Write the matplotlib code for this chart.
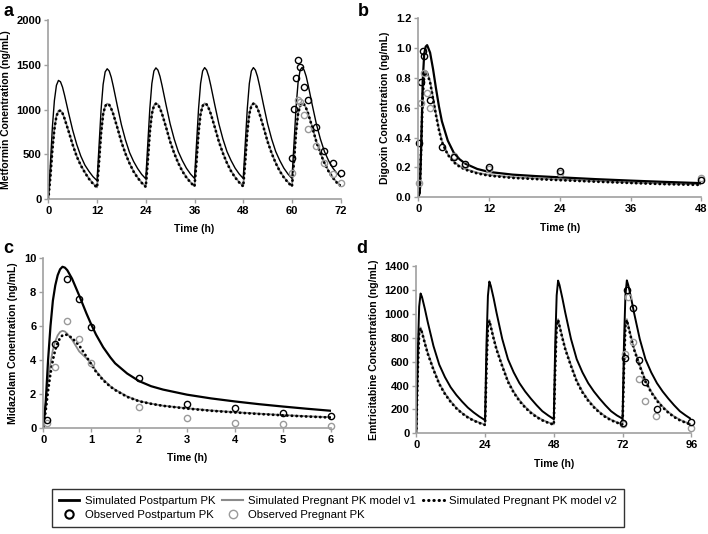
import matplotlib

matplotlib.use("Agg")
import matplotlib.pyplot as plt
from matplotlib.lines import Line2D

plt.rcParams["font.family"] = ["Liberation Sans", "DejaVu Sans"]

# ---- panel a: metformin ----
time_a = [0, 0.5, 1, 1.5, 2, 2.5, 3, 3.5, 4, 5, 6, 7, 8, 9, 10, 11,
          12, 12.5, 13, 13.5, 14, 14.5, 15, 15.5, 16, 17, 18, 19, 20, 21, 22, 23,
          24, 24.5, 25, 25.5, 26, 26.5, 27, 27.5, 28, 29, 30, 31, 32, 33, 34, 35,
          36, 36.5, 37, 37.5, 38, 38.5, 39, 39.5, 40, 41, 42, 43, 44, 45, 46, 47,
          48, 48.5, 49, 49.5, 50, 50.5, 51, 51.5, 52, 53, 54, 55, 56, 57, 58, 59,
          60, 60.5, 61, 61.5, 62, 62.5, 63, 63.5, 64, 65, 66, 67, 68, 69, 70, 71, 72]
post_a = [0, 380, 800, 1100, 1270, 1325, 1310, 1250, 1160, 960, 770, 610, 480, 380, 310, 250,
          205, 600, 1000, 1280, 1420, 1455, 1430, 1360, 1260, 1040, 830, 660, 520, 420, 340, 275,
          225, 620, 1010, 1290, 1430, 1465, 1440, 1370, 1270, 1050, 840, 670, 530, 430, 345, 280,
          230, 620, 1010, 1290, 1430, 1468, 1440, 1370, 1270, 1050, 840, 670, 530, 430, 345, 280,
          230, 620, 1010, 1290, 1430, 1468, 1440, 1370, 1270, 1050, 840, 670, 530, 430, 345, 280,
          230, 620, 1020, 1300, 1440, 1470, 1440, 1370, 1270, 1050, 840, 670, 530, 430, 350, 290, 245]
v1_a = [0, 250, 560, 790, 930, 985, 990, 960, 900, 760, 610, 480, 380, 300, 230, 175,
        130, 420, 740, 950, 1040, 1065, 1055, 1010, 950, 800, 640, 510, 400, 310, 240, 185,
        140, 430, 750, 955, 1045, 1068, 1058, 1015, 955, 805, 645, 515, 405, 315, 245, 190,
        145, 430, 750, 955, 1045, 1068, 1058, 1015, 955, 805, 645, 515, 405, 315, 245, 190,
        145, 430, 750, 955, 1045, 1068, 1058, 1015, 955, 805, 645, 515, 405, 315, 245, 190,
        145, 430, 750, 955, 1045, 1068, 1058, 1015, 955, 805, 645, 515, 405, 315, 245, 190, 150]
v2_a = [0, 240, 550, 780, 925, 980, 988, 958, 898, 755, 605, 475, 375, 295, 225, 170,
        128, 415, 735, 945, 1038, 1062, 1052, 1008, 948, 796, 636, 506, 398, 306, 236, 180,
        135, 425, 745, 950, 1040, 1065, 1055, 1012, 952, 800, 640, 510, 400, 310, 240, 185,
        140, 425, 745, 950, 1040, 1065, 1055, 1012, 952, 800, 640, 510, 400, 310, 240, 185,
        140, 425, 745, 950, 1040, 1065, 1055, 1012, 952, 800, 640, 510, 400, 310, 240, 185,
        140, 425, 745, 950, 1040, 1065, 1055, 1012, 952, 800, 640, 510, 400, 310, 240, 185, 145]
obs_post_t_a = [60, 60.5, 61, 61.5, 62, 63, 64, 66, 68, 70, 72]
obs_post_a = [462, 1002, 1348, 1550, 1475, 1250, 1106, 810, 540, 405, 287]
obs_preg_t_a = [60, 61.5, 62, 63, 64, 66, 68, 70, 72]
obs_preg_a = [295, 1110, 1080, 938, 778, 592, 400, 279, 178]

# ---- panel b: digoxin ----
time_b = [0, 0.25, 0.5, 0.75, 1, 1.25, 1.5, 2, 2.5, 3, 3.5, 4, 5, 6, 7, 8,
          10, 12, 16, 20, 24, 30, 36, 42, 48]
post_b = [0, 0.03, 0.35, 0.78, 0.96, 1.01, 1.02, 0.97, 0.86, 0.73, 0.61, 0.51, 0.38, 0.30,
          0.255, 0.225, 0.19, 0.17, 0.152, 0.142, 0.134, 0.122, 0.112, 0.103, 0.095]
v1_b = [0, 0.05, 0.36, 0.70, 0.82, 0.845, 0.84, 0.78, 0.67, 0.56, 0.46, 0.38, 0.29, 0.24,
        0.21, 0.19, 0.165, 0.15, 0.135, 0.127, 0.12, 0.11, 0.1, 0.092, 0.087]
v2_b = [0, 0.04, 0.34, 0.68, 0.81, 0.835, 0.83, 0.77, 0.66, 0.55, 0.45, 0.37, 0.285, 0.235,
        0.205, 0.185, 0.16, 0.145, 0.13, 0.122, 0.115, 0.105, 0.096, 0.088, 0.083]
obs_post_t_b = [0.12, 0.4, 0.74, 1.0, 2.0, 4.0, 6.0, 8.0, 12, 24, 48]
obs_post_b = [0.366, 0.775, 0.983, 0.947, 0.65, 0.34, 0.27, 0.223, 0.2, 0.176, 0.116]
obs_preg_t_b = [0.17, 0.46, 0.97, 1.5, 2.0, 6.0, 8.0, 12, 24, 48]
obs_preg_b = [0.098, 0.63, 0.835, 0.697, 0.6, 0.277, 0.215, 0.19, 0.165, 0.128]

# ---- panel c: midazolam ----
time_c = [0, 0.05, 0.1, 0.15, 0.2, 0.25, 0.3, 0.35, 0.4, 0.45, 0.5, 0.6, 0.75, 0.9, 1.0,
          1.1, 1.25, 1.4, 1.5, 1.75, 2.0, 2.25, 2.5, 3, 3.5, 4, 4.5, 5, 5.5, 6]
post_c = [0, 1.5, 4.0, 6.0, 7.5, 8.4, 9.0, 9.35, 9.5, 9.45, 9.3, 8.8, 7.8, 6.75, 6.1,
          5.5, 4.75, 4.15, 3.8, 3.2, 2.75, 2.45, 2.25, 1.95, 1.73, 1.55, 1.39, 1.25, 1.12, 1.0]
v1_c = [0, 1.4, 2.8, 3.8, 4.6, 5.1, 5.45, 5.65, 5.72, 5.68, 5.55, 5.2, 4.5, 4.1, 3.8,
        3.35, 2.85, 2.45, 2.25, 1.85, 1.58, 1.42, 1.3, 1.15, 1.02, 0.92, 0.83, 0.75, 0.68, 0.62]
v2_c = [0, 1.0, 2.2, 3.2, 4.0, 4.6, 5.0, 5.3, 5.45, 5.5, 5.48, 5.3, 4.85, 4.2, 3.75,
        3.3, 2.8, 2.42, 2.22, 1.82, 1.56, 1.41, 1.29, 1.13, 1.0, 0.9, 0.81, 0.73, 0.66, 0.6]
obs_t_c = [0.083, 0.25, 0.5, 0.75, 1, 2, 3, 4, 5, 6]
obs_post_c = [0.47, 4.95, 8.8, 7.6, 5.96, 2.91, 1.4, 1.14, 0.85, 0.71]
obs_preg_c = [0.26, 3.6, 6.3, 5.22, 3.84, 1.24, 0.55, 0.3, 0.24, 0.1]

# ---- panel d: emtricitabine ----
time_d = [0, 0.5, 1, 1.5, 2, 3, 4, 6, 8, 10, 12, 14, 16, 18, 20, 22,
          24, 24.5, 25, 25.5, 26, 27, 28, 30, 32, 34, 36, 38, 40, 42, 44, 46,
          48, 48.5, 49, 49.5, 50, 51, 52, 54, 56, 58, 60, 62, 64, 66, 68, 70,
          72, 72.5, 73, 73.5, 74, 75, 76, 78, 80, 82, 84, 86, 88, 90, 92, 94, 96]
post_d = [0, 650, 1060, 1170, 1140, 1040, 930, 730, 575, 470, 385, 320, 265, 215, 175, 140,
          110, 750, 1150, 1270, 1235, 1130, 1010, 790, 620, 510, 420, 350, 290, 235, 185, 150,
          118, 755, 1155, 1278, 1240, 1130, 1010, 790, 620, 510, 420, 350, 290, 235, 185, 150,
          122, 755, 1155, 1280, 1240, 1130, 1010, 790, 620, 510, 420, 350, 290, 235, 185, 150, 118]
v1_d = [0, 540, 850, 885, 850, 760, 675, 540, 420, 335, 268, 213, 170, 136, 110, 90,
        72, 560, 905, 950, 900, 800, 710, 570, 440, 348, 278, 222, 177, 141, 113, 92,
        75, 565, 910, 955, 905, 805, 712, 572, 442, 350, 280, 224, 178, 142, 114, 93,
        76, 565, 910, 955, 905, 805, 712, 572, 442, 350, 280, 224, 178, 142, 114, 93, 76]
v2_d = [0, 520, 840, 878, 842, 750, 665, 530, 412, 328, 262, 208, 166, 132, 106, 86,
        70, 545, 895, 942, 890, 790, 700, 560, 430, 340, 270, 215, 170, 135, 108, 88,
        72, 550, 900, 948, 895, 795, 702, 562, 432, 342, 272, 217, 172, 136, 109, 89,
        73, 550, 900, 948, 895, 795, 702, 562, 432, 342, 272, 217, 172, 136, 109, 89, 72]
obs_post_t_d = [72, 73, 73.6, 75.7, 77.8, 79.9, 83.9, 96]
obs_post_d = [84, 630, 1199, 1051, 613, 429, 203, 92]
obs_preg_t_d = [72, 73, 74, 75.7, 77.8, 79.9, 83.7, 96]
obs_preg_d = [80, 660, 1143, 767, 452, 273, 145, 47]

GREY_LINE = "#8a8a8a"
GREY_DOT = "#9a9a9a"
SPINE = "#a0a0a0"
DOTS = (0, (0.1, 1.6))


def draw(ax, t, post, v1, v2, ot1, o1, ot2, o2, post_lw):
    ax.plot(t, v1, color=GREY_LINE, lw=1.3)
    ax.plot(t, v2, color="black", lw=2.0, linestyle=DOTS, dash_capstyle="round")
    ax.plot(t, post, color="black", lw=post_lw)
    ax.plot(ot2, o2, "o", mfc="none", mec=GREY_DOT, mew=1.0, ms=4.5, clip_on=False)
    ax.plot(ot1, o1, "o", mfc="none", mec="black", mew=1.0, ms=4.5, clip_on=False)


def style(ax, xticks, yticks, ylabel, yfmt=None):
    for side in ("top", "right"):
        ax.spines[side].set_visible(False)
    for side in ("left", "bottom"):
        ax.spines[side].set_color(SPINE)
        ax.spines[side].set_linewidth(1.2)
    ax.set_xticks(xticks)
    ax.set_yticks(yticks)
    if yfmt:
        ax.set_yticklabels([yfmt.format(v) for v in yticks])
    ax.set_xlim(xticks[0], xticks[-1])
    ax.set_ylim(yticks[0], yticks[-1])
    ax.tick_params(length=3, width=1, color=SPINE, labelsize=8, pad=2)
    for lab in ax.get_xticklabels() + ax.get_yticklabels():
        lab.set_fontweight("bold")
    ax.set_xlabel("Time (h)", fontsize=7.5, fontweight="bold", labelpad=6)
    ax.set_ylabel(ylabel, fontsize=7.5, fontweight="bold", labelpad=4)


fig = plt.figure(figsize=(7.08, 5.34), dpi=100)
W, H = 708, 534


def add_axes(x0, y0, x1, y1):
    return fig.add_axes([x0 / W, 1 - y1 / H, (x1 - x0) / W, (y1 - y0) / H])


ax_a = add_axes(48.3, 20, 340.7, 199)
ax_b = add_axes(418.3, 18.3, 701.3, 197.3)
ax_c = add_axes(43.3, 258.3, 330.7, 427.7)
ax_d = add_axes(416.3, 266, 691.3, 433.3)

draw(ax_a, time_a, post_a, v1_a, v2_a, obs_post_t_a, obs_post_a, obs_preg_t_a, obs_preg_a, 1.0)
style(ax_a, [0, 12, 24, 36, 48, 60, 72], [0, 500, 1000, 1500, 2000],
      "Metformin Conentration (ng/mL)")

draw(ax_b, time_b, post_b, v1_b, v2_b, obs_post_t_b, obs_post_b, obs_preg_t_b, obs_preg_b, 1.6)
style(ax_b, [0, 12, 24, 36, 48], [0, 0.2, 0.4, 0.6, 0.8, 1.0, 1.2],
      "Digoxin Concentration (ng/mL)", "{:.1f}")

draw(ax_c, time_c, post_c, v1_c, v2_c, obs_t_c, obs_post_c, obs_t_c, obs_preg_c, 1.6)
style(ax_c, [0, 1, 2, 3, 4, 5, 6], [0, 2, 4, 6, 8, 10],
      "Midazolam Conentration (ng/mL)")

draw(ax_d, time_d, post_d, v1_d, v2_d, obs_post_t_d, obs_post_d, obs_preg_t_d, obs_preg_d, 1.4)
style(ax_d, [0, 24, 48, 72, 96], [0, 200, 400, 600, 800, 1000, 1200, 1400],
      "Emtricitabine Concentration (ng/mL)")

for letter, x, y in (("a", 3, 12), ("b", 358, 12), ("c", 3, 249), ("d", 356, 249)):
    fig.text(x / W, 1 - y / H, letter, fontsize=13, fontweight="bold", va="center")

handles = [
    Line2D([], [], color="black", lw=2),
    Line2D([], [], marker="o", ls="none", mfc="none", mec="black", mew=1.5, ms=6),
    Line2D([], [], color=GREY_LINE, lw=1.5),
    Line2D([], [], marker="o", ls="none", mfc="none", mec=GREY_DOT, mew=1.0, ms=6),
    Line2D([], [], color="black", lw=2.2, linestyle=DOTS, dash_capstyle="round"),
]
labels = ["Simulated Postpartum PK", "Observed Postpartum PK",
          "Simulated Pregnant PK model v1", "Observed Pregnant PK",
          "Simulated Pregnant PK model v2"]
leg = fig.legend(handles, labels, ncol=3, loc="center",
                 bbox_to_anchor=(338 / W, 1 - 508 / H), fontsize=8.2,
                 frameon=True, fancybox=False, edgecolor="black",
                 handlelength=1.8, handletextpad=0.5, columnspacing=0.6,
                 labelspacing=0.3, borderpad=0.6)
leg.get_frame().set_linewidth(1.0)

fig.savefig("out.png", dpi=100)
